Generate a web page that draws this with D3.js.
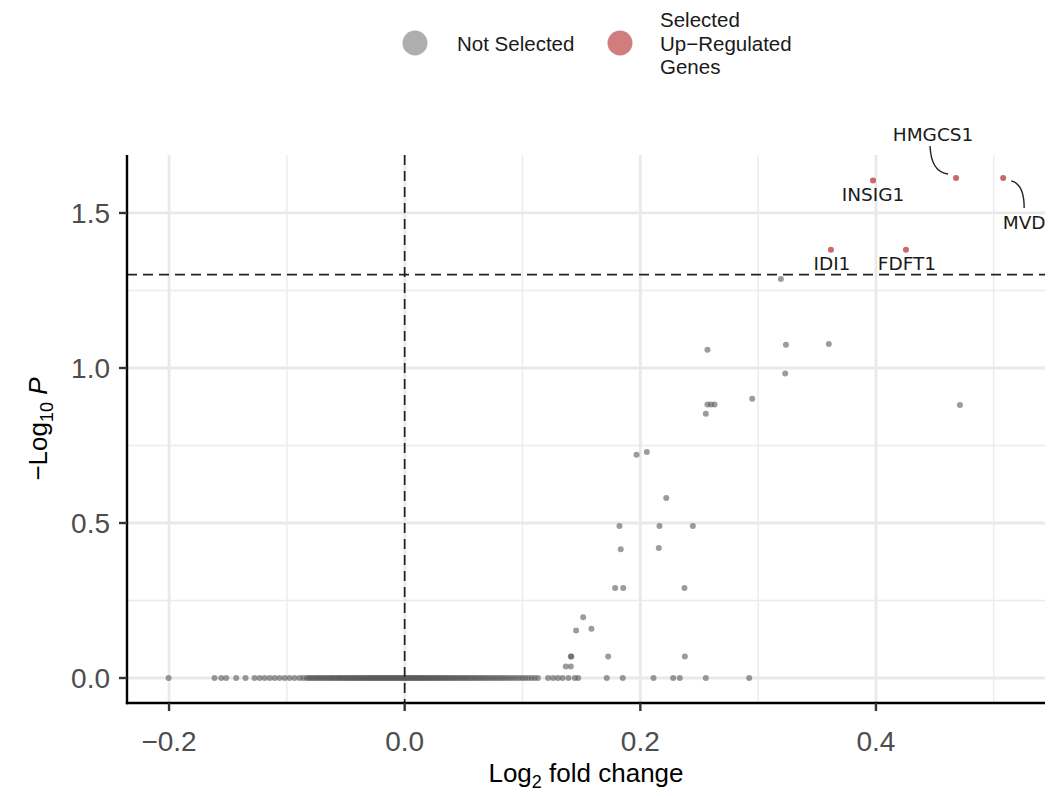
<!DOCTYPE html>
<html>
<head>
<meta charset="utf-8">
<script src="https://cdn.jsdelivr.net/npm/d3@7"></script>
<style>
  html, body { margin: 0; padding: 0; background: #fff; }
  svg { display: block; }
</style>
</head>
<body>
<svg id="chart" width="1050" height="796"></svg>
<script>
// ---------------- DATA ----------------
// Selected up-regulated genes (labelled)
const selGenes      = ["INSIG1", "HMGCS1", "MVD", "IDI1", "FDFT1"];
const selLog2FC     = [0.3975, 0.468, 0.508, 0.3618, 0.4255];
const selNegLog10P  = [1.605, 1.613, 1.613, 1.381, 1.381];

// Not selected genes with p < 1
const nsLog2FC    = [0.3193, 0.257, 0.3236, 0.360, 0.323, 0.295, 0.257, 0.260, 0.263, 0.4713,
                     0.2556, 0.1968, 0.2055, 0.222, 0.1823, 0.2163, 0.2446, 0.1834, 0.2157,
                     0.1786, 0.1855, 0.2375, 0.1515, 0.1455, 0.1585, 0.141, 0.1415, 0.1727,
                     0.2378, 0.1367, 0.141];
const nsNegLog10P = [1.287, 1.059, 1.075, 1.077, 0.982, 0.901, 0.882, 0.882, 0.882, 0.881,
                     0.852, 0.720, 0.729, 0.581, 0.490, 0.490, 0.490, 0.415, 0.419,
                     0.290, 0.290, 0.290, 0.196, 0.153, 0.159, 0.069, 0.069, 0.069,
                     0.069, 0.037, 0.037];

// Not selected genes with p = 1 (-log10 P = 0)
const nullLog2FC = [
  -0.2004, -0.1614, -0.1557, -0.1515, -0.1430, -0.1351, -0.1274, -0.1231, -0.1189, -0.1146,
  -0.1104, -0.1062, -0.1019, -0.0977, -0.0934, -0.0892, -0.0860,
  -0.0832, -0.0815, -0.0798, -0.0781, -0.0763, -0.0745, -0.0731, -0.0712, -0.0698, -0.0680,
  -0.0664, -0.0649, -0.0631, -0.0617, -0.0602, -0.0588, -0.0571, -0.0556, -0.0543, -0.0527,
  -0.0512, -0.0498, -0.0484, -0.0470, -0.0455, -0.0441, -0.0428, -0.0413, -0.0401, -0.0387,
  -0.0372, -0.0360, -0.0346, -0.0333, -0.0321, -0.0307, -0.0294, -0.0282, -0.0269, -0.0255,
  -0.0243, -0.0231, -0.0218, -0.0205, -0.0193, -0.0181, -0.0168, -0.0156, -0.0143, -0.0131,
  -0.0119, -0.0106, -0.0094, -0.0082, -0.0069, -0.0057, -0.0045, -0.0033, -0.0021, -0.0009,
   0.0004,  0.0016,  0.0028,  0.0041,  0.0053,  0.0066,  0.0078,  0.0091,  0.0104,  0.0117,
   0.0129,  0.0142,  0.0155,  0.0168,  0.0181,  0.0195,  0.0208,  0.0222,  0.0235,  0.0249,
   0.0263,  0.0277,  0.0291,  0.0305,  0.0320,  0.0334,  0.0349,  0.0364,  0.0379,  0.0394,
   0.0410,  0.0425,  0.0441,  0.0457,  0.0473,  0.0490,  0.0506,  0.0523,  0.0540,  0.0558,
   0.0575,  0.0593,  0.0611,  0.0630,  0.0648,  0.0667,  0.0686,  0.0706,  0.0726,  0.0746,
   0.0767,  0.0788,  0.0809,  0.0831,  0.0853,  0.0876,  0.0899,  0.0923,  0.0947,  0.0972,
   0.0997,  0.1023,  0.1049,  0.1076,  0.1103,  0.1131,
   0.1217,  0.1260,  0.1300,  0.1340,  0.1390,  0.1444,  0.1473,
   0.1715,  0.1851,  0.2112,  0.2279,  0.2335,  0.2556,  0.2924
];

const xTicks = [-0.2, 0.0, 0.2, 0.4];
const xMinor = [-0.1, 0.1, 0.3, 0.5];
const yTicks = [0.0, 0.5, 1.0, 1.5];
const yMinor = [0.25, 0.75, 1.25];

const pCutoff = 1.30103;   // -log10(0.05)
const fcCutoff = 0;

const legendLabels = ["Not Selected", ["Selected", "Up\u2212Regulated", "Genes"]];

// ---------------- LAYOUT ----------------
const svg = d3.select("#chart");
const panel = { left: 127, right: 1045, top: 155, bottom: 703 };
const FONT = "'Liberation Sans', Arial, Helvetica, sans-serif";
const LABFONT = "'DejaVu Sans', sans-serif";
const grayCol = "#555555", grayOp = 0.58;
const redCol = "#a80505", redOp = 0.6;
const R = 3;

const x = d3.scaleLinear().domain([-0.2357, 0.5435]).range([panel.left, panel.right]);
const y = d3.scaleLinear().domain([-0.0806, 1.687]).range([panel.bottom, panel.top]);

// grid
const grid = svg.append("g");
grid.selectAll(".xmin").data(xMinor).join("line")
  .attr("x1", d => x(d)).attr("x2", d => x(d))
  .attr("y1", panel.top).attr("y2", panel.bottom)
  .attr("stroke", "#ebebeb").attr("stroke-width", 1.4);
grid.selectAll(".ymin").data(yMinor).join("line")
  .attr("y1", d => y(d)).attr("y2", d => y(d))
  .attr("x1", panel.left).attr("x2", panel.right)
  .attr("stroke", "#ebebeb").attr("stroke-width", 1.4);
grid.selectAll(".xmaj").data(xTicks).join("line")
  .attr("x1", d => x(d)).attr("x2", d => x(d))
  .attr("y1", panel.top).attr("y2", panel.bottom)
  .attr("stroke", "#e9e9e9").attr("stroke-width", 2.8);
grid.selectAll(".ymaj").data(yTicks).join("line")
  .attr("y1", d => y(d)).attr("y2", d => y(d))
  .attr("x1", panel.left).attr("x2", panel.right)
  .attr("stroke", "#e9e9e9").attr("stroke-width", 2.8);

// points
const pts = svg.append("g");
pts.selectAll(".null").data(nullLog2FC).join("circle")
  .attr("cx", d => x(d)).attr("cy", y(0)).attr("r", R)
  .attr("fill", grayCol).attr("fill-opacity", grayOp);
pts.selectAll(".ns").data(nsLog2FC).join("circle")
  .attr("cx", d => x(d)).attr("cy", (d, i) => y(nsNegLog10P[i])).attr("r", R)
  .attr("fill", grayCol).attr("fill-opacity", grayOp);
pts.selectAll(".sel").data(selLog2FC).join("circle")
  .attr("cx", d => x(d)).attr("cy", (d, i) => y(selNegLog10P[i])).attr("r", R)
  .attr("fill", redCol).attr("fill-opacity", redOp);

// cutoff lines
svg.append("line")
  .attr("x1", panel.left).attr("x2", panel.right)
  .attr("y1", y(pCutoff)).attr("y2", y(pCutoff))
  .attr("stroke", "#222").attr("stroke-width", 1.7).attr("stroke-dasharray", "10,6");
svg.append("line")
  .attr("x1", x(fcCutoff)).attr("x2", x(fcCutoff))
  .attr("y1", panel.top).attr("y2", panel.bottom)
  .attr("stroke", "#222").attr("stroke-width", 1.7).attr("stroke-dasharray", "10,6");

// labels (pixel offsets relative to point) and curved connectors
const labelOffsets = {
  INSIG1: { dx: 0,  dy: 21 },
  HMGCS1: { dx: -23, dy: -37, seg: [[-26, -32], [-25, -6], [-8, -4]] },
  MVD:    { dx: 21, dy: 51, seg: [[8, 3], [21, 6], [21, 30]] },
  IDI1:   { dx: 1,  dy: 20 },
  FDFT1:  { dx: 1,  dy: 20 }
};
const labG = svg.append("g");
selGenes.forEach((g, i) => {
  const px = x(selLog2FC[i]), py = y(selNegLog10P[i]);
  const o = labelOffsets[g];
  if (o.seg) {
    const p = d3.path();
    p.moveTo(px + o.seg[0][0], py + o.seg[0][1]);
    p.quadraticCurveTo(px + o.seg[1][0], py + o.seg[1][1], px + o.seg[2][0], py + o.seg[2][1]);
    labG.append("path").attr("d", p.toString())
      .attr("fill", "none").attr("stroke", "#222").attr("stroke-width", 1.4);
  }
  labG.append("text")
    .attr("x", px + o.dx).attr("y", py + o.dy)
    .attr("text-anchor", "middle")
    .attr("font-family", LABFONT).attr("font-size", 18.5).attr("fill", "#1a1a1a")
    .text(g);
});

// axes lines
svg.append("line").attr("x1", panel.left).attr("x2", panel.left)
  .attr("y1", panel.top).attr("y2", panel.bottom + 1.2)
  .attr("stroke", "#000").attr("stroke-width", 2.4);
svg.append("line").attr("x1", panel.left - 1.2).attr("x2", panel.right)
  .attr("y1", panel.bottom).attr("y2", panel.bottom)
  .attr("stroke", "#000").attr("stroke-width", 2.4);

// ticks
const fmt = d3.format(".1f");
const axG = svg.append("g");
axG.selectAll(".xt").data(xTicks).join("line")
  .attr("x1", d => x(d)).attr("x2", d => x(d))
  .attr("y1", panel.bottom).attr("y2", panel.bottom + 8)
  .attr("stroke", "#333").attr("stroke-width", 2.4);
axG.selectAll(".yt").data(yTicks).join("line")
  .attr("y1", d => y(d)).attr("y2", d => y(d))
  .attr("x1", panel.left - 8).attr("x2", panel.left)
  .attr("stroke", "#333").attr("stroke-width", 2.4);
axG.selectAll(".xl").data(xTicks).join("text")
  .attr("x", d => x(d)).attr("y", panel.bottom + 48)
  .attr("text-anchor", "middle")
  .attr("font-family", FONT).attr("font-size", 28).attr("fill", "#4d4d4d")
  .text(d => fmt(d));
axG.selectAll(".yl").data(yTicks).join("text")
  .attr("x", panel.left - 17).attr("y", d => y(d) + 10)
  .attr("text-anchor", "end")
  .attr("font-family", FONT).attr("font-size", 28).attr("fill", "#4d4d4d")
  .text(d => fmt(d));

// axis titles
const xt = svg.append("text")
  .attr("x", (panel.left + panel.right) / 2).attr("y", 782)
  .attr("text-anchor", "middle")
  .attr("font-family", FONT).attr("font-size", 26).attr("fill", "#000");
xt.append("tspan").text("Log");
xt.append("tspan").attr("font-size", 18).attr("dy", 6).text("2");
xt.append("tspan").attr("dy", -6).text(" fold change");

const yt = svg.append("text")
  .attr("transform", `translate(47,${(panel.top + panel.bottom) / 2}) rotate(-90)`)
  .attr("text-anchor", "middle")
  .attr("font-family", FONT).attr("font-size", 26).attr("fill", "#000");
yt.append("tspan").text("\u2212Log");
yt.append("tspan").attr("font-size", 18).attr("dy", 6).text("10");
yt.append("tspan").attr("dy", -6).text(" ");
yt.append("tspan").attr("font-style", "italic").text("P");

// legend
const lg = svg.append("g");
lg.append("circle").attr("cx", 415).attr("cy", 43).attr("r", 12.5)
  .attr("fill", grayCol).attr("fill-opacity", 0.48);
lg.append("text").attr("x", 457).attr("y", 50.5)
  .attr("font-family", FONT).attr("font-size", 20.5).attr("fill", "#1a1a1a")
  .text(legendLabels[0]);
lg.append("circle").attr("cx", 620).attr("cy", 43).attr("r", 12.5)
  .attr("fill", redCol).attr("fill-opacity", 0.52);
legendLabels[1].forEach((t, i) => {
  lg.append("text").attr("x", 660).attr("y", 27 + i * 23.5)
    .attr("font-family", FONT).attr("font-size", 20.5).attr("fill", "#1a1a1a")
    .text(t);
});
</script>
</body>
</html>
